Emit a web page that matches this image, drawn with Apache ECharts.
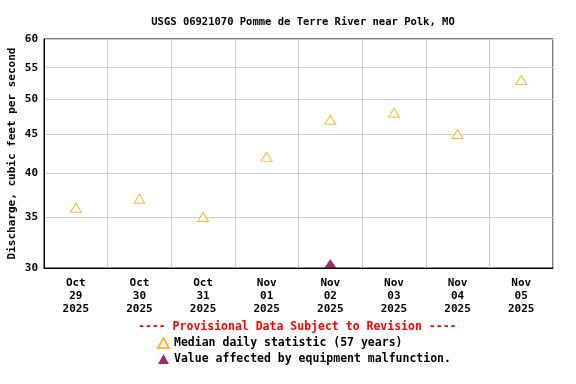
<!DOCTYPE html>
<html><head><meta charset="utf-8">
<script src="https://cdn.jsdelivr.net/npm/echarts@6/dist/echarts.min.js"></script>
<style>html,body{margin:0;padding:0;background:#fff}#c{width:576px;height:384px}</style>
</head><body><div id="c"></div>
<script>
const categories = ['Oct\n29\n2025','Oct\n30\n2025','Oct\n31\n2025','Nov\n01\n2025','Nov\n02\n2025','Nov\n03\n2025','Nov\n04\n2025','Nov\n05\n2025'];
const medianValues = [36, 37, 35, 42, 47, 48, 45, 53];
const malfunctionValues = [null, null, null, null, 30.4, null, null, null];
const yTicks = [30, 35, 40, 45, 50, 55, 60];
const titleText = 'USGS 06921070 Pomme de Terre River near Polk, MO';
const yAxisName = 'Discharge, cubic feet per second';
const provisionalText = '---- Provisional Data Subject to Revision ----';
const medianName = 'Median daily statistic (57 years)';
const malfunctionName = 'Value affected by equipment malfunction.';

const FONT = '"DejaVu Sans Mono", "Liberation Mono", monospace';
const chart = echarts.init(document.getElementById('c'));
chart.setOption({
  animation: false,
  title: {text: titleText, left: 298, textAlign: 'center', top: 12,
    textStyle: {fontFamily: FONT, fontSize: 10.5, fontWeight: 'bold', color: '#000'}},
  grid: {left: 44, right: 23, top: 39, bottom: 116, show: true, borderColor: '#000', borderWidth: 1,
    backgroundColor: 'transparent', containLabel: false, outerBoundsMode: 'none'},
  xAxis: {type: 'category', data: categories, boundaryGap: true,
    axisLine: {lineStyle: {color: '#000'}}, axisTick: {show: false},
    splitLine: {show: true, lineStyle: {color: '#cccccc', width: 1}},
    axisLabel: {color: '#000', fontFamily: FONT, fontSize: 11, fontWeight: 'bold', lineHeight: 13, margin: 9, interval: 0}},
  yAxis: {type: 'log', logBase: 10, min: 30, max: 60,
    name: yAxisName, nameLocation: 'middle', nameGap: 26, nameRotate: 90, nameMoveOverlap: false,
    nameTextStyle: {fontFamily: FONT, fontSize: 11, fontWeight: 'bold', color: '#000'},
    axisLine: {show: true, lineStyle: {color: '#000'}},
    axisTick: {show: false, customValues: yTicks},
    splitLine: {show: true, lineStyle: {color: '#cccccc', width: 1}},
    axisLabel: {customValues: yTicks, color: '#000', fontFamily: FONT, fontSize: 11, fontWeight: 'bold', margin: 6}},
  legend: {orient: 'vertical', left: 152, top: 332, itemGap: 4, itemWidth: 11, itemHeight: 10,
    textStyle: {fontFamily: FONT, fontSize: 11.5, fontWeight: 'bold', color: '#000'},
    data: [medianName, malfunctionName]},
  graphic: [{type: 'text', left: 138, top: 321,
    style: {text: provisionalText, fill: '#ff0000', font: 'bold 11.5px ' + FONT}}],
  series: [
    {name: medianName, type: 'scatter', data: medianValues, symbol: 'triangle', symbolSize: [11, 9],
     itemStyle: {color: '#ffffff', borderColor: '#FFA500', borderWidth: 1}},
    {name: malfunctionName, type: 'scatter', data: malfunctionValues, symbol: 'triangle', symbolSize: [12, 9],
     itemStyle: {color: '#7A0040'}}
  ]
});
</script></body></html>
